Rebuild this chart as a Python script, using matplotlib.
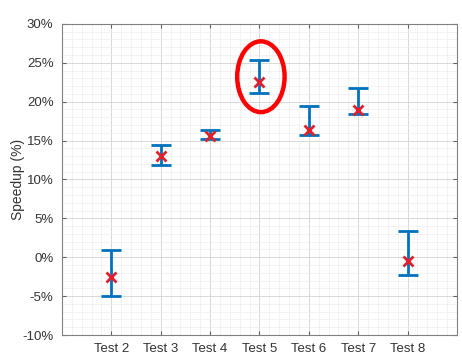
import numpy as np
import matplotlib.pyplot as plt
from matplotlib.patches import Ellipse
from matplotlib.ticker import MultipleLocator, FuncFormatter

plt.rcParams['font.family'] = ['Liberation Sans', 'DejaVu Sans']

# Data (speedup in %)
tests = ['Test 2', 'Test 3', 'Test 4', 'Test 5', 'Test 6', 'Test 7', 'Test 8']
mean = [-2.5, 13.0, 15.6, 22.5, 16.3, 18.9, -0.5]
low = [-5.0, 11.9, 15.2, 21.1, 15.7, 18.4, -2.3]
high = [0.9, 14.45, 16.3, 25.4, 19.4, 21.7, 3.4]

x = np.arange(2, 2 + len(tests))
mean = np.array(mean)
yerr = [mean - np.array(low), np.array(high) - mean]

fig = plt.figure(figsize=(4.62, 3.61), dpi=100)
ax = fig.add_axes([0.134, 0.072, 0.855, 0.862])

ax.errorbar(x, mean, yerr=yerr, fmt='none', ecolor='#0072BD',
            elinewidth=2, capsize=7, capthick=2, zorder=3)
ax.plot(x, mean, 'x', color='#E0202A', markersize=7, mew=2, zorder=4)

# highlight Test 5
ax.add_patch(Ellipse((5.03, 23.2), 0.96, 9.1, fill=False, edgecolor='red',
                     linewidth=3.2, zorder=5))

ax.set_xlim(1, 9)
ax.set_ylim(-10, 30)
ax.set_xticks(x)
ax.set_xticklabels(tests)
ax.yaxis.set_major_locator(MultipleLocator(5))
ax.yaxis.set_major_formatter(FuncFormatter(lambda v, p: f'{v:.0f}%'))
ax.xaxis.set_minor_locator(MultipleLocator(0.2))
ax.yaxis.set_minor_locator(MultipleLocator(1))

ax.grid(True, which='major', color='#d9d9d9', linewidth=0.7)
ax.grid(True, which='minor', color='#eeeeee', linewidth=0.5)
ax.set_axisbelow(True)

ax.tick_params(which='major', direction='in', length=3, top=True, right=True,
               labelsize=9.5, colors='#606060', labelcolor='#333333', pad=6)
ax.tick_params(which='minor', length=0)
for s in ax.spines.values():
    s.set_color('#808080')
    s.set_linewidth(0.8)

ax.set_ylabel('Speedup (%)', fontsize=10, color='#333333', labelpad=-2)

fig.savefig('out.png', dpi=100)
